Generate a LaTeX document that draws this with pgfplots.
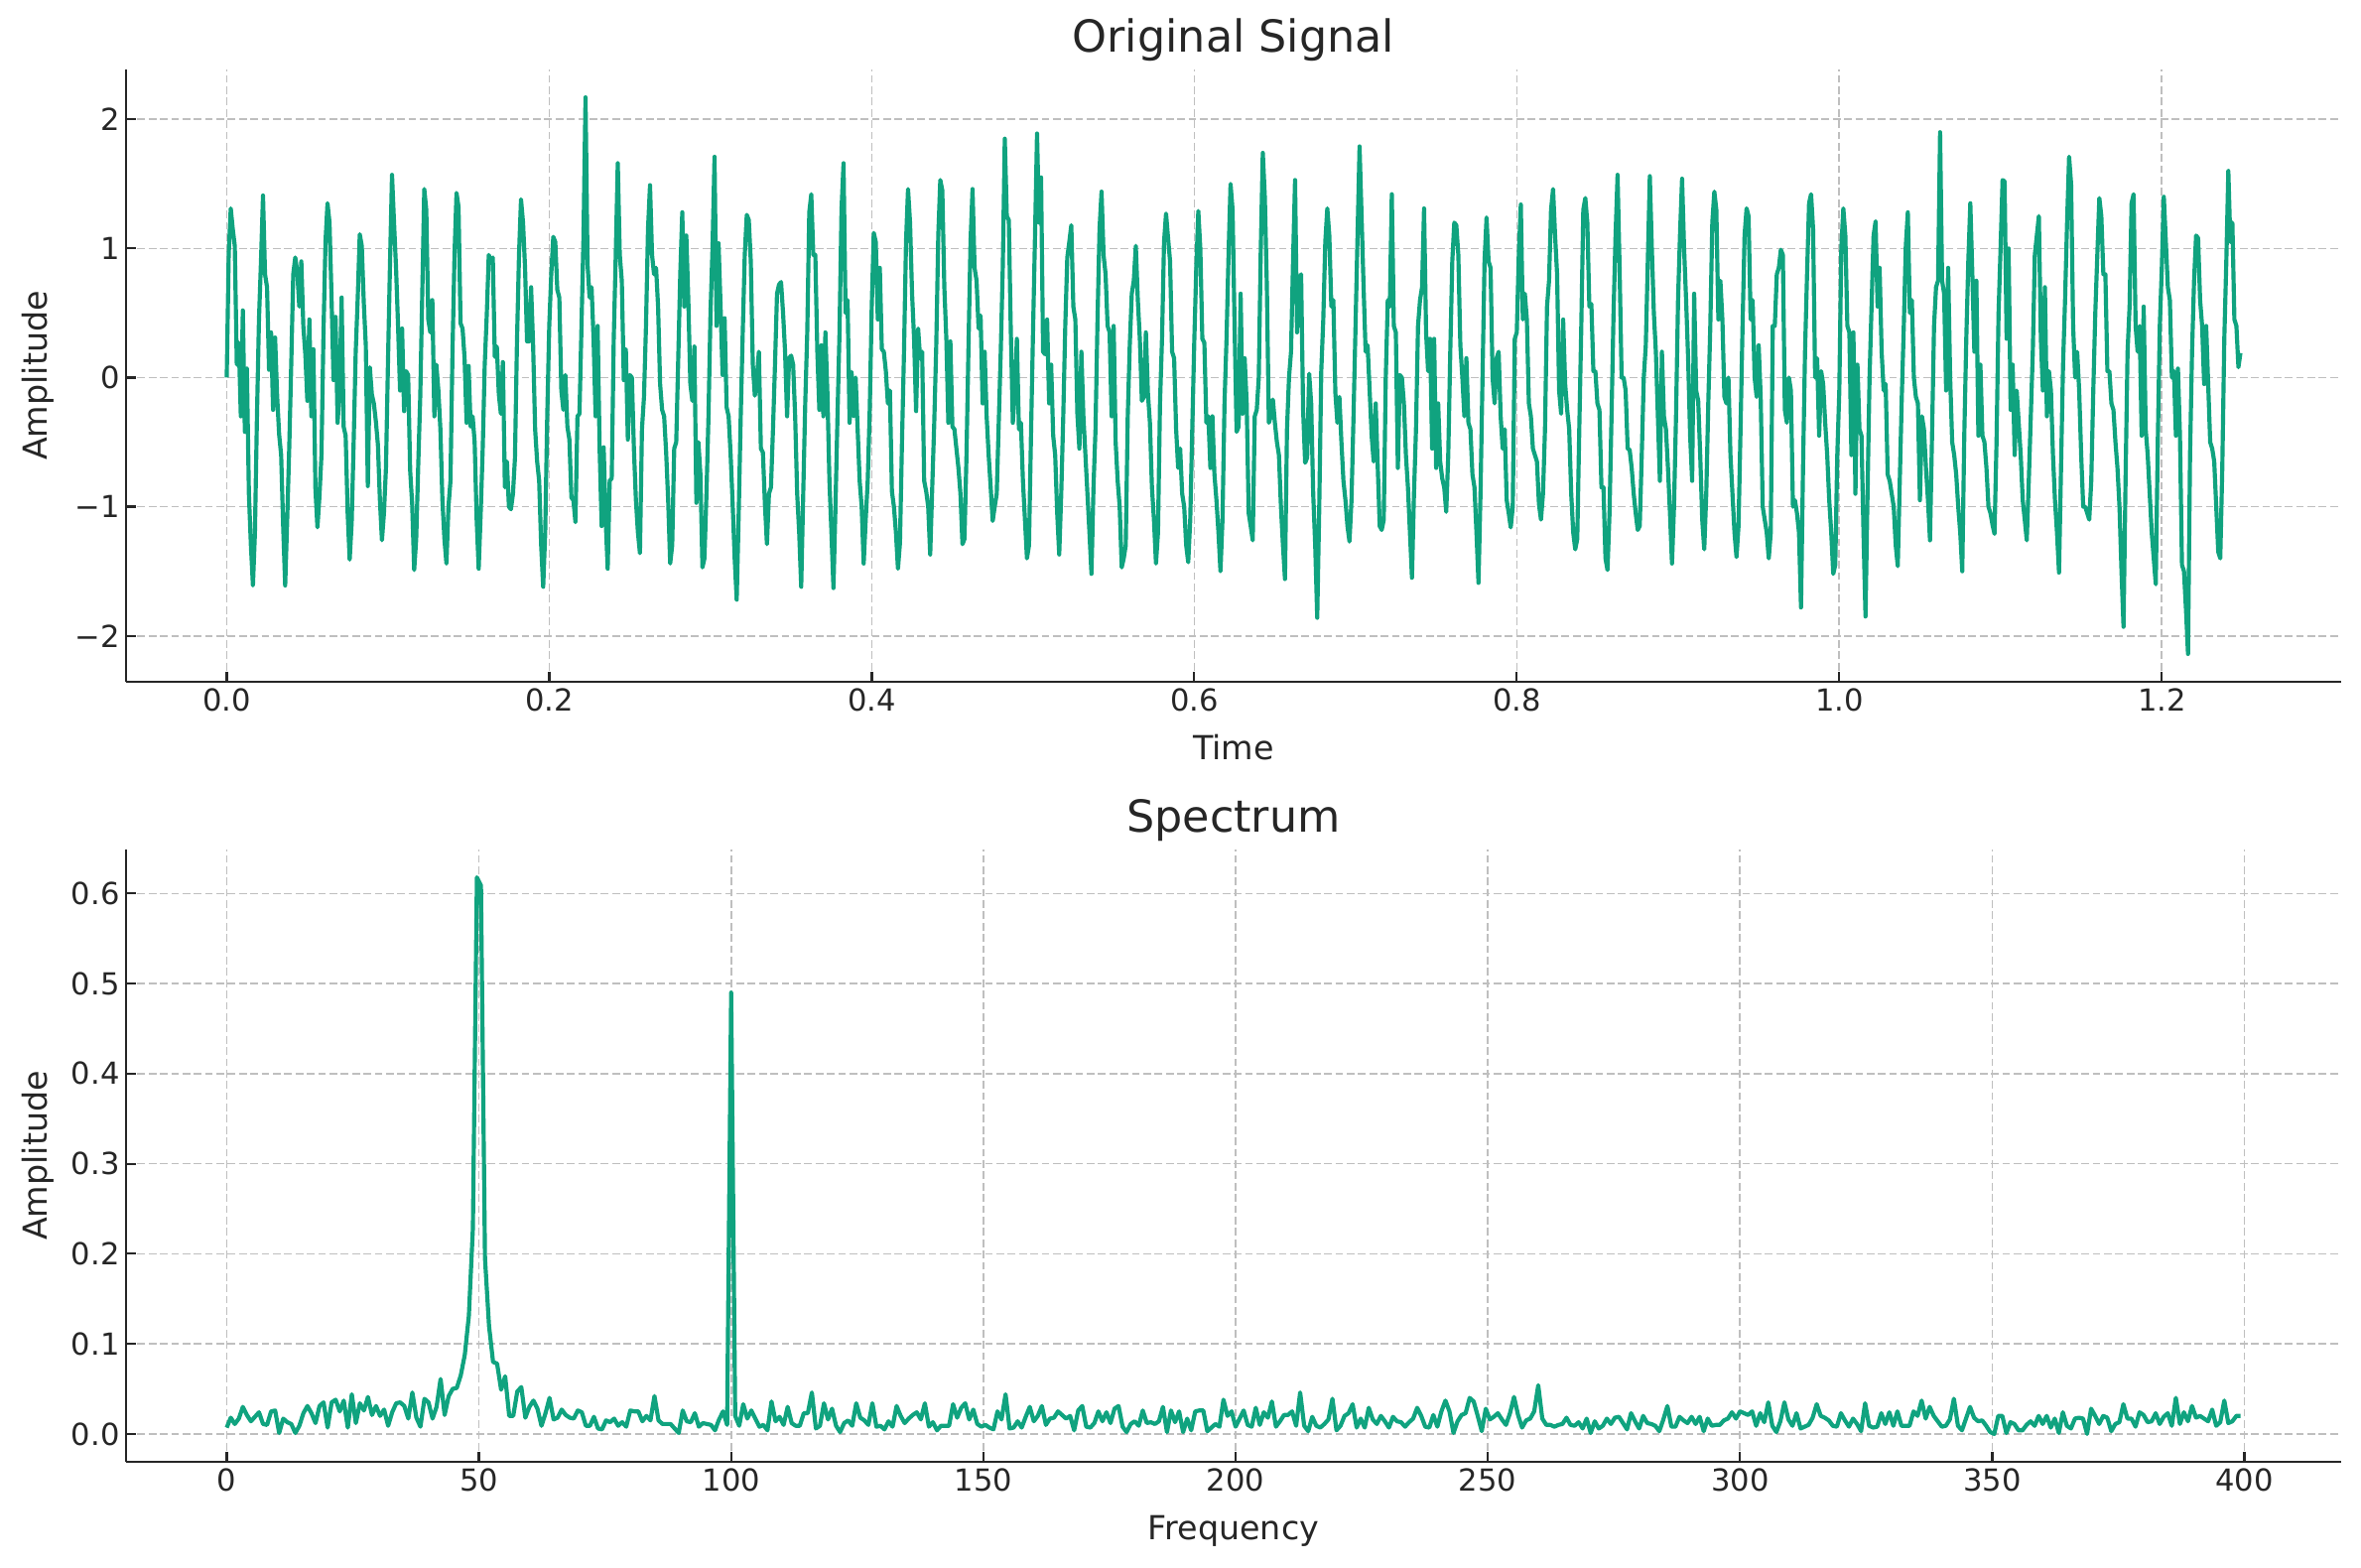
\documentclass[border=0pt]{standalone}
\usepackage{pgfplots}
\pgfplotsset{compat=1.18}
\usepackage{pgfplotstable}
\usepackage{fontspec}
\setmainfont{DejaVu Sans}
\definecolor{sig}{HTML}{10A37F}
\definecolor{txt}{HTML}{262626}

% Original signal, sampled at 800 Hz (1000 samples)
\pgfplotstableread[row sep=\\, header=false]{
0.00\\0.96\\1.31\\1.15\\1.02\\0.10\\0.27\\-0.30\\0.52\\-0.42\\0.07\\-0.90\\-1.30\\-1.61\\-1.20\\-0.30\\
0.45\\0.90\\1.41\\0.80\\0.70\\0.06\\0.35\\-0.25\\0.31\\-0.14\\-0.44\\-0.60\\-1.15\\-1.61\\-1.10\\-0.55\\
0.10\\0.80\\0.93\\0.82\\0.55\\0.90\\0.40\\0.18\\-0.18\\0.45\\-0.30\\0.22\\-0.86\\-1.16\\-0.92\\-0.60\\
0.35\\1.05\\1.35\\1.20\\0.62\\-0.02\\0.47\\-0.35\\-0.10\\0.62\\-0.38\\-0.45\\-1.05\\-1.41\\-1.12\\-0.48\\
0.20\\0.62\\1.11\\1.02\\0.58\\0.25\\-0.84\\0.08\\-0.13\\-0.20\\-0.34\\-0.52\\-0.95\\-1.26\\-1.05\\-0.70\\
0.12\\0.88\\1.57\\1.20\\0.85\\0.40\\-0.10\\0.38\\-0.26\\0.05\\0.02\\-0.72\\-0.98\\-1.49\\-1.25\\-0.68\\
-0.15\\0.65\\1.46\\1.30\\0.45\\0.35\\0.60\\-0.30\\0.10\\-0.10\\-0.40\\-0.95\\-1.25\\-1.44\\-1.00\\-0.80\\
0.20\\0.95\\1.43\\1.32\\0.42\\0.38\\0.15\\-0.35\\0.09\\-0.38\\-0.30\\-0.50\\-1.10\\-1.48\\-1.05\\-0.55\\
0.10\\0.48\\0.95\\0.90\\0.93\\0.16\\0.24\\-0.13\\-0.28\\0.12\\-0.85\\-0.65\\-1.00\\-1.02\\-0.90\\-0.62\\
0.28\\0.95\\1.38\\1.20\\0.85\\0.28\\0.28\\0.70\\0.25\\-0.40\\-0.65\\-0.80\\-1.30\\-1.62\\-1.20\\-0.30\\
0.40\\0.80\\1.09\\1.05\\0.68\\0.62\\-0.10\\-0.25\\0.02\\-0.38\\-0.48\\-0.93\\-0.95\\-1.12\\-0.30\\-0.28\\
0.40\\1.10\\2.17\\0.88\\0.62\\0.70\\0.30\\-0.30\\0.40\\-0.55\\-1.15\\-0.54\\-1.10\\-1.48\\-0.80\\-0.78\\
0.30\\0.95\\1.66\\0.95\\0.75\\-0.02\\0.22\\-0.48\\0.02\\0.00\\-0.55\\-0.95\\-1.20\\-1.36\\-0.40\\-0.15\\
0.40\\1.15\\1.49\\0.95\\0.80\\0.85\\0.55\\-0.05\\-0.25\\-0.30\\-0.58\\-0.95\\-1.44\\-1.30\\-0.55\\-0.50\\
0.15\\0.80\\1.28\\0.55\\1.10\\0.60\\-0.05\\-0.18\\0.24\\-0.97\\-0.50\\-0.75\\-1.47\\-1.40\\-0.90\\-0.30\\
0.50\\1.00\\1.71\\0.40\\1.04\\0.55\\0.02\\0.46\\-0.23\\-0.30\\-0.60\\-0.98\\-1.40\\-1.72\\-1.05\\-0.30\\
0.35\\0.95\\1.26\\1.22\\0.90\\0.10\\-0.14\\0.00\\0.20\\-0.55\\-0.58\\-0.98\\-1.29\\-0.90\\-0.85\\-0.40\\
0.10\\0.65\\0.72\\0.74\\0.50\\0.20\\-0.30\\0.15\\0.17\\0.10\\-0.30\\-0.90\\-1.20\\-1.62\\-0.90\\-0.20\\
0.35\\1.28\\1.42\\0.95\\0.95\\0.20\\-0.25\\0.25\\-0.30\\0.35\\-0.12\\-0.80\\-1.20\\-1.63\\-1.00\\-0.30\\
0.35\\1.30\\1.66\\0.50\\0.60\\-0.35\\0.04\\-0.30\\0.00\\-0.40\\-0.80\\-1.00\\-1.44\\-1.10\\-0.80\\-0.25\\
0.55\\1.12\\1.05\\0.45\\0.85\\0.22\\0.20\\0.05\\-0.20\\-0.10\\-0.88\\-1.00\\-1.20\\-1.48\\-1.28\\-0.50\\
0.20\\1.05\\1.46\\1.20\\0.65\\0.30\\-0.26\\0.38\\0.15\\0.20\\-0.80\\-0.88\\-1.00\\-1.37\\-0.85\\-0.35\\
0.25\\1.10\\1.53\\1.45\\0.70\\0.30\\-0.35\\0.28\\-0.38\\-0.40\\-0.55\\-0.70\\-0.90\\-1.29\\-1.25\\-0.60\\
0.25\\1.05\\1.46\\0.85\\0.75\\0.38\\0.48\\-0.20\\0.20\\-0.30\\-0.60\\-0.85\\-1.11\\-1.00\\-0.90\\-0.35\\
0.20\\0.85\\1.85\\1.25\\1.22\\0.35\\-0.35\\-0.10\\0.30\\-0.40\\-0.35\\-0.80\\-1.10\\-1.40\\-1.30\\-0.45\\
0.35\\1.10\\1.89\\1.20\\1.55\\0.20\\0.18\\0.45\\-0.20\\0.10\\-0.45\\-0.60\\-1.05\\-1.37\\-0.90\\-0.30\\
0.40\\0.93\\1.05\\1.18\\0.55\\0.45\\-0.28\\-0.55\\0.20\\-0.30\\-0.60\\-0.90\\-1.20\\-1.52\\-0.85\\-0.40\\
0.45\\1.15\\1.44\\0.95\\0.80\\0.40\\0.35\\-0.30\\0.40\\-0.50\\-0.80\\-1.00\\-1.47\\-1.40\\-1.30\\-0.30\\
0.25\\0.65\\0.75\\1.02\\0.60\\0.30\\-0.18\\-0.15\\0.35\\-0.12\\-0.35\\-0.85\\-1.10\\-1.44\\-1.20\\-0.20\\
0.30\\1.05\\1.27\\1.08\\0.90\\0.20\\0.15\\-0.40\\-0.70\\-0.55\\-0.90\\-1.00\\-1.30\\-1.43\\-1.10\\-0.40\\
0.28\\0.85\\1.29\\1.00\\0.30\\0.27\\-0.35\\-0.30\\-0.70\\-0.30\\-0.75\\-0.95\\-1.20\\-1.50\\-1.10\\-0.20\\
0.30\\0.95\\1.50\\1.30\\0.40\\-0.42\\-0.38\\0.65\\-0.28\\0.15\\-0.20\\-1.05\\-1.15\\-1.26\\-0.30\\-0.25\\
0.00\\1.00\\1.74\\1.40\\0.72\\-0.35\\-0.30\\-0.17\\-0.35\\-0.50\\-0.60\\-1.00\\-1.30\\-1.56\\-0.40\\0.00\\
0.20\\0.90\\1.53\\0.35\\0.75\\0.80\\-0.25\\-0.66\\-0.62\\0.03\\-0.20\\-0.90\\-1.30\\-1.86\\-1.00\\0.05\\
0.45\\1.05\\1.31\\1.10\\0.55\\0.60\\-0.12\\-0.35\\-0.15\\-0.50\\-0.80\\-0.95\\-1.15\\-1.27\\-0.95\\-0.30\\
0.40\\1.10\\1.79\\1.25\\0.70\\0.20\\0.25\\-0.10\\-0.45\\-0.65\\-0.20\\-0.68\\-1.15\\-1.18\\-1.10\\0.00\\
0.60\\0.55\\1.42\\0.40\\0.35\\-0.70\\0.02\\0.00\\-0.20\\-0.60\\-0.85\\-1.20\\-1.55\\-0.90\\-0.40\\0.40\\
0.60\\0.70\\1.31\\0.35\\0.05\\0.30\\-0.55\\0.30\\-0.70\\-0.20\\-0.65\\-0.78\\-0.85\\-1.04\\-0.60\\0.20\\
0.90\\1.20\\1.18\\0.95\\0.25\\0.00\\-0.30\\0.15\\-0.35\\-0.40\\-0.75\\-0.85\\-1.20\\-1.59\\-0.90\\0.00\\
0.90\\1.24\\0.90\\0.85\\0.00\\-0.20\\0.15\\0.20\\-0.30\\-0.55\\-0.40\\-0.95\\-1.05\\-1.16\\-1.00\\0.30\\
0.35\\0.95\\1.34\\0.45\\0.65\\0.45\\-0.20\\-0.30\\-0.55\\-0.60\\-0.65\\-0.98\\-1.10\\-0.90\\-0.40\\0.55\\
0.75\\1.30\\1.46\\1.10\\0.80\\-0.10\\-0.28\\0.45\\-0.05\\-0.25\\-0.40\\-0.90\\-1.20\\-1.33\\-1.25\\-0.40\\
0.40\\1.30\\1.39\\1.20\\0.55\\0.57\\0.05\\0.05\\-0.20\\-0.25\\-0.85\\-0.85\\-1.40\\-1.49\\-1.05\\-0.30\\
0.50\\1.10\\1.57\\0.85\\0.00\\0.00\\-0.10\\-0.55\\-0.56\\-0.70\\-0.90\\-1.05\\-1.18\\-1.15\\-0.60\\0.00\\
0.25\\0.90\\1.56\\1.00\\0.50\\0.20\\-0.30\\-0.80\\0.20\\-0.30\\-0.40\\-0.70\\-1.05\\-1.44\\-1.00\\-0.30\\
0.60\\1.12\\1.54\\1.00\\0.60\\0.15\\-0.45\\-0.80\\0.65\\-0.10\\-0.18\\-0.60\\-1.10\\-1.33\\-0.90\\-0.20\\
0.40\\1.20\\1.44\\1.30\\0.45\\0.75\\0.45\\-0.15\\-0.20\\0.00\\-0.60\\-0.90\\-1.20\\-1.39\\-1.15\\-0.40\\
0.40\\1.10\\1.31\\1.25\\0.45\\0.60\\0.00\\-0.15\\0.25\\-0.15\\-1.00\\-1.10\\-1.20\\-1.40\\-1.20\\0.40\\
0.40\\0.80\\0.85\\0.99\\0.95\\-0.25\\-0.35\\0.00\\-0.10\\-1.00\\-0.95\\-1.05\\-1.20\\-1.78\\-0.70\\0.20\\
0.80\\1.35\\1.42\\1.15\\0.00\\0.15\\-0.45\\0.05\\-0.05\\-0.35\\-0.60\\-0.95\\-1.20\\-1.52\\-1.45\\-0.60\\
-0.10\\1.00\\1.31\\1.10\\0.40\\0.35\\-0.60\\0.35\\-0.90\\0.10\\-0.40\\-0.45\\-1.20\\-1.85\\-0.90\\0.00\\
0.55\\1.10\\1.21\\0.55\\0.85\\0.20\\-0.10\\-0.05\\-0.75\\-0.80\\-0.90\\-1.00\\-1.30\\-1.46\\-0.80\\-0.15\\
0.40\\1.02\\1.28\\0.50\\0.60\\0.00\\-0.15\\-0.20\\-0.95\\-0.30\\-0.40\\-0.70\\-0.95\\-1.26\\-0.45\\0.40\\
0.70\\0.75\\1.90\\0.75\\0.65\\-0.10\\0.85\\0.00\\-0.50\\-0.60\\-0.75\\-1.00\\-1.20\\-1.50\\-0.45\\0.30\\
0.90\\1.35\\0.80\\0.20\\0.75\\-0.45\\0.10\\-0.45\\-0.50\\-0.70\\-1.00\\-1.05\\-1.14\\-1.21\\-0.50\\0.50\\
1.00\\1.53\\1.52\\0.30\\1.00\\-0.25\\0.10\\-0.60\\-0.10\\-0.35\\-0.60\\-0.95\\-1.10\\-1.26\\-0.80\\-0.30\\
0.20\\0.95\\1.10\\1.25\\0.30\\-0.10\\0.70\\-0.30\\0.05\\-0.10\\-0.60\\-0.95\\-1.20\\-1.51\\-0.70\\0.10\\
0.60\\1.20\\1.71\\1.50\\0.40\\0.00\\0.20\\-0.10\\-0.60\\-1.00\\-1.00\\-1.05\\-1.10\\-0.80\\-0.10\\0.50\\
0.95\\1.39\\1.25\\0.80\\0.80\\0.05\\0.05\\-0.20\\-0.25\\-0.50\\-0.70\\-1.00\\-1.50\\-1.93\\-0.80\\0.20\\
0.55\\1.35\\1.42\\0.40\\0.20\\0.40\\-0.45\\0.55\\-0.40\\-0.60\\-0.90\\-1.20\\-1.40\\-1.60\\-0.50\\0.40\\
0.85\\1.40\\1.05\\0.70\\0.60\\0.00\\0.05\\-0.45\\0.07\\-0.45\\-1.45\\-1.50\\-1.80\\-2.14\\-0.60\\0.20\\
0.75\\1.10\\1.08\\0.60\\0.40\\-0.05\\0.40\\-0.05\\-0.50\\-0.55\\-0.65\\-1.00\\-1.35\\-1.40\\-0.70\\0.30\\
0.90\\1.60\\1.05\\1.20\\0.45\\0.40\\0.08\\0.19\\
}\sigtable

% Spectrum amplitude, bins of 0.8 Hz (500 bins)
\pgfplotstableread[row sep=\\, header=false]{
0.007\\0.018\\0.011\\0.017\\0.030\\0.021\\0.014\\0.019\\0.024\\0.011\\
0.010\\0.025\\0.026\\0.001\\0.017\\0.013\\0.011\\0.001\\0.009\\0.023\\
0.031\\0.023\\0.012\\0.031\\0.035\\0.007\\0.035\\0.038\\0.025\\0.037\\
0.007\\0.044\\0.012\\0.034\\0.026\\0.041\\0.021\\0.031\\0.020\\0.027\\
0.009\\0.024\\0.034\\0.035\\0.031\\0.017\\0.046\\0.018\\0.008\\0.039\\
0.035\\0.017\\0.030\\0.061\\0.021\\0.042\\0.050\\0.051\\0.065\\0.088\\
0.131\\0.228\\0.618\\0.609\\0.195\\0.120\\0.080\\0.078\\0.049\\0.064\\
0.020\\0.020\\0.047\\0.052\\0.018\\0.030\\0.037\\0.028\\0.009\\0.023\\
0.040\\0.016\\0.018\\0.027\\0.021\\0.018\\0.017\\0.026\\0.024\\0.009\\
0.009\\0.019\\0.006\\0.005\\0.015\\0.013\\0.017\\0.009\\0.013\\0.008\\
0.026\\0.025\\0.025\\0.014\\0.020\\0.015\\0.042\\0.015\\0.011\\0.011\\
0.011\\0.006\\0.001\\0.026\\0.014\\0.013\\0.023\\0.008\\0.012\\0.011\\
0.010\\0.004\\0.016\\0.025\\0.010\\0.490\\0.020\\0.009\\0.033\\0.017\\
0.026\\0.017\\0.008\\0.010\\0.004\\0.036\\0.014\\0.019\\0.010\\0.030\\
0.012\\0.009\\0.009\\0.023\\0.023\\0.046\\0.006\\0.009\\0.034\\0.016\\
0.028\\0.009\\0.002\\0.012\\0.015\\0.009\\0.034\\0.018\\0.015\\0.010\\
0.034\\0.008\\0.009\\0.005\\0.014\\0.008\\0.031\\0.020\\0.012\\0.017\\
0.021\\0.024\\0.016\\0.034\\0.008\\0.013\\0.004\\0.009\\0.009\\0.009\\
0.033\\0.018\\0.029\\0.034\\0.016\\0.027\\0.011\\0.008\\0.010\\0.007\\
0.005\\0.025\\0.016\\0.044\\0.006\\0.007\\0.014\\0.007\\0.019\\0.030\\
0.014\\0.020\\0.031\\0.010\\0.017\\0.018\\0.025\\0.021\\0.017\\0.020\\
0.004\\0.026\\0.031\\0.008\\0.007\\0.012\\0.025\\0.014\\0.024\\0.012\\
0.028\\0.031\\0.008\\0.002\\0.011\\0.014\\0.009\\0.026\\0.012\\0.013\\
0.011\\0.014\\0.030\\0.002\\0.026\\0.013\\0.025\\0.002\\0.017\\0.004\\
0.025\\0.026\\0.026\\0.003\\0.007\\0.011\\0.008\\0.038\\0.020\\0.025\\
0.008\\0.017\\0.026\\0.010\\0.008\\0.029\\0.010\\0.024\\0.018\\0.036\\
0.008\\0.014\\0.021\\0.021\\0.025\\0.009\\0.046\\0.009\\0.003\\0.019\\
0.009\\0.007\\0.011\\0.016\\0.039\\0.004\\0.009\\0.020\\0.023\\0.033\\
0.007\\0.017\\0.007\\0.029\\0.016\\0.011\\0.020\\0.014\\0.007\\0.019\\
0.014\\0.013\\0.008\\0.013\\0.017\\0.029\\0.020\\0.008\\0.007\\0.021\\
0.008\\0.025\\0.037\\0.025\\0.001\\0.014\\0.021\\0.023\\0.040\\0.036\\
0.020\\0.003\\0.028\\0.016\\0.019\\0.023\\0.016\\0.010\\0.023\\0.041\\
0.021\\0.007\\0.015\\0.017\\0.025\\0.054\\0.017\\0.010\\0.010\\0.008\\
0.010\\0.011\\0.018\\0.010\\0.009\\0.013\\0.006\\0.017\\0.001\\0.014\\
0.006\\0.009\\0.017\\0.011\\0.018\\0.019\\0.012\\0.005\\0.023\\0.014\\
0.006\\0.020\\0.012\\0.011\\0.009\\0.003\\0.016\\0.031\\0.008\\0.008\\
0.019\\0.015\\0.012\\0.019\\0.011\\0.019\\0.003\\0.017\\0.009\\0.010\\
0.010\\0.015\\0.017\\0.024\\0.017\\0.025\\0.023\\0.021\\0.025\\0.009\\
0.023\\0.013\\0.035\\0.009\\0.002\\0.014\\0.035\\0.016\\0.009\\0.023\\
0.006\\0.008\\0.010\\0.018\\0.033\\0.020\\0.018\\0.015\\0.009\\0.008\\
0.023\\0.015\\0.008\\0.017\\0.011\\0.003\\0.034\\0.009\\0.007\\0.008\\
0.023\\0.011\\0.024\\0.009\\0.025\\0.009\\0.009\\0.009\\0.025\\0.020\\
0.037\\0.017\\0.030\\0.020\\0.014\\0.008\\0.009\\0.016\\0.039\\0.009\\
0.004\\0.017\\0.030\\0.018\\0.014\\0.015\\0.009\\0.002\\0.000\\0.020\\
0.020\\0.001\\0.013\\0.011\\0.004\\0.004\\0.010\\0.014\\0.009\\0.020\\
0.011\\0.020\\0.007\\0.017\\0.001\\0.024\\0.009\\0.006\\0.017\\0.018\\
0.017\\0.000\\0.028\\0.020\\0.011\\0.020\\0.018\\0.003\\0.011\\0.013\\
0.033\\0.017\\0.017\\0.008\\0.024\\0.021\\0.013\\0.014\\0.023\\0.011\\
0.019\\0.023\\0.009\\0.040\\0.011\\0.024\\0.014\\0.031\\0.018\\0.020\\
0.017\\0.014\\0.027\\0.009\\0.013\\0.037\\0.012\\0.014\\0.020\\0.020\\
}\spectable

\pgfplotsset{
  mpl/.style={
    scale only axis,
    width=803.5pt, height=222.1pt,
    axis x line=bottom, axis y line=left,
    axis line style={-, line width=0.8pt, color=txt},
    x axis line style={-}, y axis line style={-},
    tick align=inside,
    major tick length=3.6pt,
    tick style={line width=0.8pt, color=txt},
    grid=major,
    major grid style={dash pattern=on 2.8pt off 1.3pt, line width=0.6pt, color=black!25},
    tick label style={font=\fontsize{11}{13}\selectfont, color=txt},
    xticklabel style={yshift=1pt},
    yticklabel style={xshift=1.2pt},
    label style={font=\fontsize{12}{14}\selectfont, color=txt},
    title style={font=\fontsize{16}{19}\selectfont, color=txt, at={(0.5,1)}, anchor=base, yshift=0.3pt},
    xlabel style={at={(axis description cs:0.5,0)}, anchor=base, yshift=-28.3pt},
    ylabel style={at={(axis description cs:-0.0398,0.5)}, anchor=center, rotate=0},
    /pgf/number format/assume math mode=true,
  }
}

\begin{document}
\begin{tikzpicture}
\useasboundingbox (-45.72pt,-321.48pt) rectangle (810.72pt,247.32pt);

\begin{axis}[mpl,
  at={(0,0)}, anchor=south west,
  title={Original Signal},
  xlabel={Time}, ylabel={Amplitude},
  xmin=-0.06244, xmax=1.31119,
  ymin=-2.3555, ymax=2.3855,
  xtick={0,0.2,0.4,0.6,0.8,1.0,1.2},
  xticklabels={0.0,0.2,0.4,0.6,0.8,1.0,1.2},
  ytick={-2,-1,0,1,2},
  yticklabels={−2,−1,0,1,2},
]
\addplot[sig, line width=1.5pt, line join=round, mark=none]
  table[x expr=\coordindex*0.00125, y index=0] {\sigtable};
\end{axis}

\begin{axis}[mpl,
  at={(0,-60.84pt)}, anchor=north west,
  title={Spectrum},
  xlabel={Frequency}, ylabel={Amplitude},
  xmin=-19.96, xmax=419.16,
  ymin=-0.0309, ymax=0.6489,
  xtick={0,50,100,150,200,250,300,350,400},
  xticklabels={0,50,100,150,200,250,300,350,400},
  ytick={0,0.1,0.2,0.3,0.4,0.5,0.6},
  yticklabels={0.0,0.1,0.2,0.3,0.4,0.5,0.6},
]
\addplot[sig, line width=1.5pt, line join=round, mark=none]
  table[x expr=\coordindex*0.8, y index=0] {\spectable};
\end{axis}
\end{tikzpicture}
\end{document}
